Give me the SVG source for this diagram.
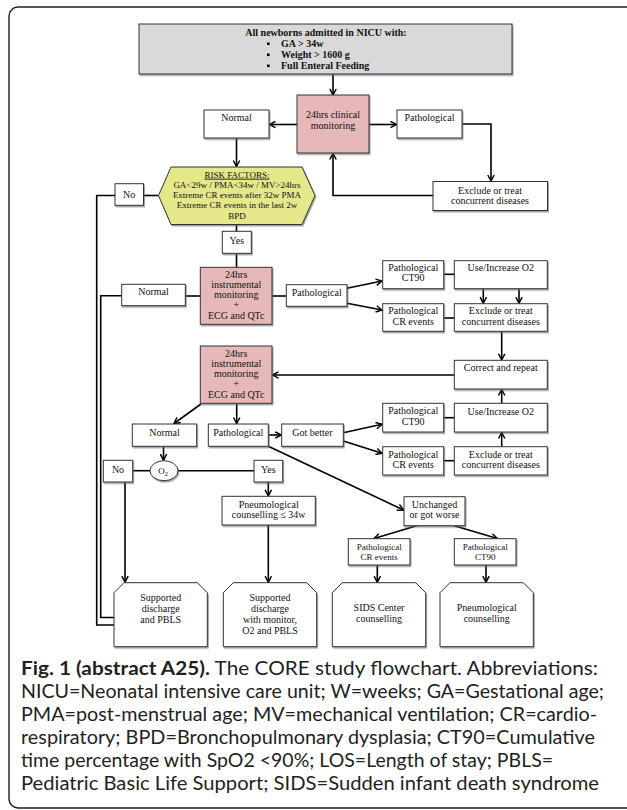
<svg xmlns="http://www.w3.org/2000/svg" width="627" height="810" viewBox="0 0 627 810">
<style>
.bx{fill:#fff;stroke:#333;stroke-width:1;filter:url(#sh)}
.pk{fill:#e6b9b8;stroke:#333;stroke-width:1;filter:url(#sh)}
.t{font-family:"Liberation Serif","DejaVu Serif",serif;font-size:10px;fill:#111;text-anchor:middle}
.s{font-size:9px}
.b{font-weight:bold}
.c{fill:none;stroke:#000;stroke-width:1.6}
.ar{marker-end:url(#ah)}
.cap{font-family:Lato,"Open Sans","Liberation Sans",sans-serif;font-size:18.5px;fill:#231f20}
</style>
<defs>
<marker id="ah" viewBox="0 0 10 10" refX="9" refY="5" markerWidth="8" markerHeight="8" orient="auto" markerUnits="userSpaceOnUse">
<path d="M1.5,1 L9,5 L1.5,9" fill="none" stroke="#000" stroke-width="1.8"/>
</marker>
<filter id="sh" x="-10%" y="-10%" width="130%" height="140%">
<feDropShadow dx="1" dy="1.5" stdDeviation="0.6" flood-color="#666" flood-opacity="0.6"/>
</filter>
</defs>
<rect x="9" y="7" width="650" height="801" rx="9" fill="#fff" stroke="#1e1e1e" stroke-width="1.4"/>

<g id="connectors">
<path class="c ar" d="M333,74 V95"/>
<path class="c ar" d="M297,124.5 H269.5"/>
<path class="c ar" d="M369,124.5 H396.5"/>
<path class="c ar" d="M462,124 H491 V181"/>
<path class="c ar" d="M433,195.5 H333 V153.5"/>
<path class="c ar" d="M236.5,138 V166.5"/>
<path class="c" d="M158.5,195.5 H143.5"/>
<path class="c" d="M115,195.5 H96.7 V625 H114"/>
<path class="c" d="M236.5,224.5 V231.3"/>
<path class="c" d="M236.5,253.3 V267.3"/>
<path class="c" d="M185.3,296 H200.3"/>
<path class="c" d="M121.7,295.7 H100.7 V617.5 H114"/>
<path class="c" d="M272,296 H286.3"/>
<path class="c ar" d="M347,288.3 L382,281"/>
<path class="c ar" d="M347,303.3 L382,310"/>
<path class="c" d="M443.7,274.3 H454.3"/>
<path class="c" d="M443.7,318 H454.3"/>
<path class="c ar" d="M483.3,288.7 V303.2"/>
<path class="c ar" d="M519,288.7 V303.2"/>
<path class="c ar" d="M501.7,331.3 V359.8"/>
<path class="c ar" d="M454.3,375 H272.5"/>
<path class="c ar" d="M201,404 L174,423.5"/>
<path class="c ar" d="M236.7,403.3 V423.5"/>
<path class="c ar" d="M268.3,435 H281.2"/>
<path class="c ar" d="M343.3,432.7 L382,424.3"/>
<path class="c ar" d="M343.3,441 L382,453.3"/>
<path class="c" d="M443.7,417.7 H454.3"/>
<path class="c" d="M443.7,460.7 H454.3"/>
<path class="c ar" d="M501.7,446.7 V432.5"/>
<path class="c ar" d="M501.7,403.3 V389.5"/>
<path class="c ar" d="M163.5,446.3 V460.2"/>
<path class="c" d="M132.7,470.7 H150"/>
<path class="c" d="M178,470.7 H254"/>
<path class="c ar" d="M125,482 V582.2"/>
<path class="c ar" d="M268.3,482 V495.8"/>
<path class="c ar" d="M268.3,525 V582.2"/>
<path class="c ar" d="M268.3,446.3 L403.5,510"/>
<path class="c ar" d="M416.7,525.7 L374,538.5"/>
<path class="c ar" d="M454.3,525.7 L497.3,538.5"/>
<path class="c ar" d="M377.3,565 V582.2"/>
<path class="c ar" d="M486,565 V582.2"/>
</g>

<g id="start">
<rect x="139" y="24" width="373" height="50" fill="#d9d9d9" stroke="#333" stroke-width="1" filter="url(#sh)"/>
<text class="t b" x="326" y="36">All newborns admitted in NICU with:</text>
<rect x="267" y="42.5" width="2.6" height="2.6" fill="#000"/>
<rect x="267" y="53.5" width="2.6" height="2.6" fill="#000"/>
<rect x="267" y="64.5" width="2.6" height="2.6" fill="#000"/>
<text class="t b" x="281" y="47" style="text-anchor:start">GA &gt; 34w</text>
<text class="t b" x="281" y="58" style="text-anchor:start">Weight &gt; 1600 g</text>
<text class="t b" x="281" y="69" style="text-anchor:start">Full Enteral Feeding</text>
</g>

<g id="clinical">
<rect class="pk" x="297" y="95" width="72" height="58"/>
<text class="t" x="333" y="118">24hrs clinical</text>
<text class="t" x="333" y="129">monitoring</text>
</g>
<g id="normal1"><rect class="bx" x="204" y="110" width="65" height="28"/><text class="t" x="236.5" y="121">Normal</text></g>
<g id="patho1"><rect class="bx" x="397" y="110" width="65" height="28"/><text class="t" x="429.5" y="121">Pathological</text></g>
<g id="exclude1"><rect class="bx" x="433" y="181.5" width="114.5" height="29"/><text class="t" x="490" y="193.5">Exclude or treat</text><text class="t" x="490" y="204">concurrent diseases</text></g>

<g id="risk">
<polygon points="171,167 302,167 315,195.5 302,224.5 171,224.5 158.5,195.5" fill="#e4e78a" stroke="#333" stroke-width="1" filter="url(#sh)"/>
<text class="t s" x="237" y="177.7" text-decoration="underline">RISK FACTORS:</text>
<text class="t s" x="237" y="188">GA&lt;29w / PMA&lt;34w / MV&gt;24hrs</text>
<text class="t s" x="237" y="198">Extreme CR events after 32w PMA</text>
<text class="t s" x="237" y="208">Extreme CR events in the last 2w</text>
<text class="t s" x="237" y="218.5">BPD</text>
</g>
<g id="no1"><rect class="bx" x="115" y="183.7" width="28.5" height="21.6"/><text class="t" x="129.2" y="197.5">No</text></g>
<g id="yes1"><rect class="bx" x="222.3" y="231.3" width="29" height="22"/><text class="t" x="236.8" y="244">Yes</text></g>

<g id="instr1">
<rect class="pk" x="200.3" y="267.3" width="71.7" height="57"/>
<text class="t" x="236.2" y="277.5">24hrs</text>
<text class="t" x="236.2" y="287.8">instrumental</text>
<text class="t" x="236.2" y="298">monitoring</text>
<text class="t" x="236.2" y="308.3">+</text>
<text class="t" x="236.2" y="318.5">ECG and QTc</text>
</g>
<g id="normal2"><rect class="bx" x="121.7" y="284.3" width="63.6" height="21.4"/><text class="t" x="153.5" y="295">Normal</text></g>
<g id="patho2"><rect class="bx" x="286.3" y="284.7" width="60.7" height="21.6"/><text class="t" x="316.7" y="295.5">Pathological</text></g>
<g id="ct90a"><rect class="bx" x="382.7" y="260.7" width="61" height="28"/><text class="t" x="413.2" y="271">Pathological</text><text class="t" x="413.2" y="281">CT90</text></g>
<g id="o2a"><rect class="bx" x="454.3" y="260.7" width="93" height="28"/><text class="t" x="500.8" y="271">Use/Increase O2</text></g>
<g id="cra"><rect class="bx" x="382.7" y="303.7" width="61" height="27.6"/><text class="t" x="413.2" y="314">Pathological</text><text class="t" x="413.2" y="324.5">CR events</text></g>
<g id="exclude2"><rect class="bx" x="454.3" y="303.7" width="93" height="27.6"/><text class="t" x="500.8" y="314">Exclude or treat</text><text class="t" x="500.8" y="324.5">concurrent diseases</text></g>
<g id="correct"><rect class="bx" x="454.3" y="360.3" width="93" height="28.7"/><text class="t" x="500.8" y="371">Correct and repeat</text></g>

<g id="instr2">
<rect class="pk" x="200.3" y="346" width="71.7" height="57.3"/>
<text class="t" x="236.2" y="356.5">24hrs</text>
<text class="t" x="236.2" y="366.8">instrumental</text>
<text class="t" x="236.2" y="377">monitoring</text>
<text class="t" x="236.2" y="387.3">+</text>
<text class="t" x="236.2" y="397.6">ECG and QTc</text>
</g>
<g id="normal3"><rect class="bx" x="132.3" y="424" width="64.4" height="22.3"/><text class="t" x="164.5" y="436">Normal</text></g>
<g id="patho3"><rect class="bx" x="208.3" y="424" width="60" height="22.3"/><text class="t" x="238.3" y="436">Pathological</text></g>
<g id="better"><rect class="bx" x="281.7" y="424" width="61.6" height="22.3"/><text class="t" x="312.5" y="436">Got better</text></g>
<g id="ct90b"><rect class="bx" x="382.7" y="403.3" width="61" height="28.7"/><text class="t" x="413.2" y="414">Pathological</text><text class="t" x="413.2" y="424.5">CT90</text></g>
<g id="o2b"><rect class="bx" x="454.3" y="403.3" width="93" height="28.7"/><text class="t" x="500.8" y="414.5">Use/Increase O2</text></g>
<g id="crb"><rect class="bx" x="382.7" y="446.7" width="61" height="28.3"/><text class="t" x="413.2" y="457.5">Pathological</text><text class="t" x="413.2" y="467.5">CR events</text></g>
<g id="exclude3"><rect class="bx" x="454.3" y="446.7" width="93" height="28.3"/><text class="t" x="500.8" y="457.5">Exclude or treat</text><text class="t" x="500.8" y="467.5">concurrent diseases</text></g>

<g id="o2"><ellipse cx="164" cy="470.7" rx="14" ry="10" fill="#fff" stroke="#333" stroke-width="1" filter="url(#sh)"/><text class="t s" x="163" y="474">O<tspan font-size="6.5" dy="1.5">2</tspan></text></g>
<g id="no3"><rect class="bx" x="103.3" y="460.3" width="29.4" height="21.7"/><text class="t" x="118" y="473">No</text></g>
<g id="yes3"><rect class="bx" x="254" y="460.3" width="28.7" height="21.7"/><text class="t" x="268.3" y="473">Yes</text></g>
<g id="pneumo34"><rect class="bx" x="222" y="496.3" width="93.3" height="28.7"/><text class="t" x="268.7" y="507.5">Pneumological</text><text class="t" x="268.7" y="518">counselling ≤ 34w</text></g>
<g id="unchanged"><rect class="bx" x="404" y="496.7" width="61" height="29"/><text class="t" x="434.5" y="507.5">Unchanged</text><text class="t" x="434.5" y="518">or got worse</text></g>
<g id="crc"><rect class="bx" x="348.3" y="538.7" width="61.7" height="26.3"/><text class="t s" x="379.2" y="549.5">Pathological</text><text class="t s" x="379.2" y="560">CR events</text></g>
<g id="ct90c"><rect class="bx" x="454.3" y="538.7" width="61.7" height="26.3"/><text class="t s" x="485.2" y="549.5">Pathological</text><text class="t s" x="485.2" y="560">CT90</text></g>

<g id="out1"><path class="bx" d="M124,582.7 H197.3 L207.3,592.7 V646.7 H114 V592.7 Z"/><text class="t" x="160.7" y="600.5">Supported</text><text class="t" x="160.7" y="611.8">discharge</text><text class="t" x="160.7" y="623">and PBLS</text></g>
<g id="out2"><path class="bx" d="M233.3,582.7 H306.7 L316.7,592.7 V646.7 H223.3 V592.7 Z"/><text class="t" x="270" y="600.5">Supported</text><text class="t" x="270" y="611.8">discharge</text><text class="t" x="270" y="623">with monitor,</text><text class="t" x="270" y="634.3">O2 and PBLS</text></g>
<g id="out3"><path class="bx" d="M342.3,582.7 H415.7 L425.7,592.7 V646.7 H332.3 V592.7 Z"/><text class="t" x="379" y="611">SIDS Center</text><text class="t" x="379" y="621.7">counselling</text></g>
<g id="out4"><path class="bx" d="M450,582.7 H523.3 L533.3,592.7 V646.7 H440 V592.7 Z"/><text class="t" x="486.7" y="611">Pneumological</text><text class="t" x="486.7" y="621.7">counselling</text></g>

<g id="caption">
<text class="cap" x="21" y="675" textLength="577" lengthAdjust="spacingAndGlyphs"><tspan font-weight="bold">Fig. 1 (abstract A25).</tspan> The CORE study flowchart. Abbreviations:</text>
<text class="cap" x="21" y="698" textLength="583" lengthAdjust="spacingAndGlyphs">NICU=Neonatal intensive care unit; W=weeks; GA=Gestational age;</text>
<text class="cap" x="21" y="721" textLength="576" lengthAdjust="spacingAndGlyphs">PMA=post-menstrual age; MV=mechanical ventilation; CR=cardio-</text>
<text class="cap" x="21" y="744" textLength="574" lengthAdjust="spacingAndGlyphs">respiratory; BPD=Bronchopulmonary dysplasia; CT90=Cumulative</text>
<text class="cap" x="21" y="767" textLength="532" lengthAdjust="spacingAndGlyphs">time percentage with SpO2 &lt;90%; LOS=Length of stay; PBLS=</text>
<text class="cap" x="21" y="790" textLength="578" lengthAdjust="spacingAndGlyphs">Pediatric Basic Life Support; SIDS=Sudden infant death syndrome</text>
</g>
</svg>
